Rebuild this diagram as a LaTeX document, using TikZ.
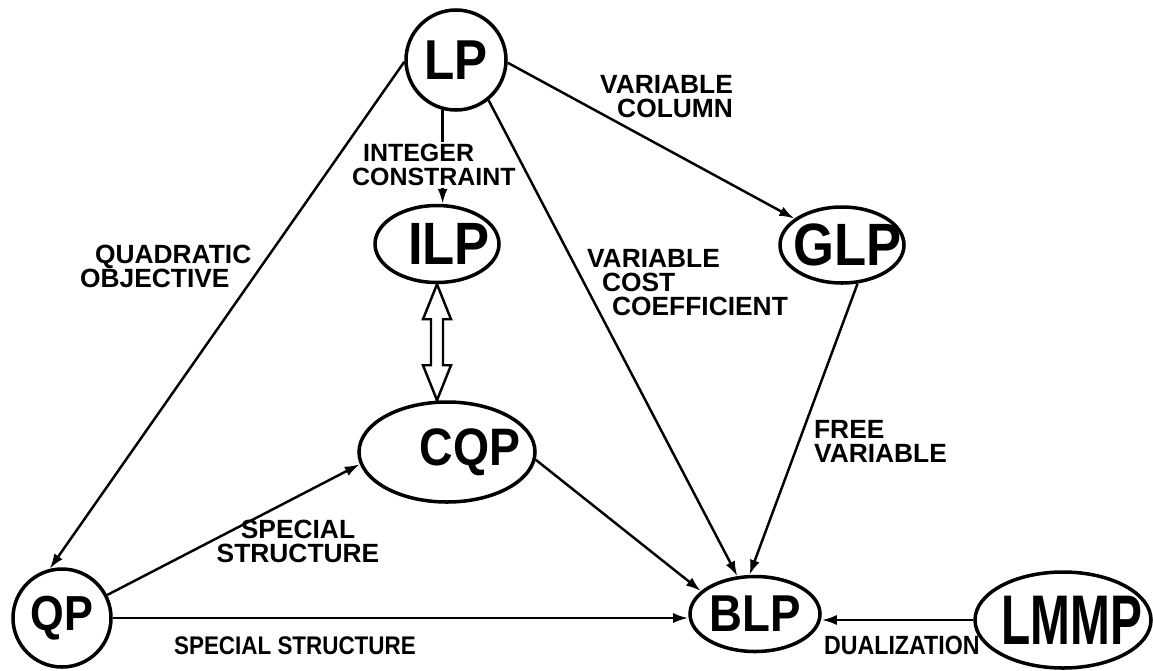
\documentclass[tikz,border=0pt]{standalone}
\usepackage{fontspec}
\setmainfont{Liberation Sans}
\newfontfamily\nodefont[FakeStretch=0.88]{Liberation Sans}
\newfontfamily\slimfont[FakeStretch=0.68]{Liberation Sans}
\usetikzlibrary{shapes.geometric,arrows.meta,calc}
\tikzset{
	circ/.style={circle,draw,line width=2pt,inner sep=0pt,minimum size=#1},
	ell/.style args={#1/#2}{ellipse,draw,line width=2pt,inner sep=0pt,minimum width=#1,minimum height=#2},
	bigtxt/.style={font=\nodefont\bfseries\fontsize{#1}{#1}\selectfont,inner sep=0pt},
	edge/.style={line width=1.4pt,-{Latex[length=3mm,width=2mm]}},
	lbl/.style={font=\bfseries\fontsize{15}{13.7}\selectfont,inner sep=1pt}
}
\begin{document}
\begin{tikzpicture}[x=0.2mm,y=-0.2mm]
	\useasboundingbox (0,0) rectangle (1153,670);
	% problems
	\node[circ=20mm,bigtxt=32] (lp) at (456,60) {LP};
	\node[circ=19.6mm,bigtxt=28] (qp) at (62,618) {QP};
	\node[ell=24.8mm/15.4mm,label={[bigtxt=34,xshift=2.4mm]center:ILP}] (ilp) at (437,244) {};
	\node[ell=24.8mm/15.2mm,label={[bigtxt=34,xshift=1.2mm]center:GLP}] (glp) at (842,245) {};
	\node[ell=35.2mm/20mm,label={[bigtxt=30,xshift=4.6mm]center:CQP}] (cqp) at (447,452) {};
	\node[ell=26mm/15mm,label={[bigtxt=29.5]center:BLP}] (blp) at (755,614) {};
	\node[ell=35.2mm/19.2mm,label={[font=\slimfont\bfseries\fontsize{40}{40}\selectfont,inner sep=0pt,xshift=1.8mm]center:LMMP}] (lmmp) at (1063,620) {};
	% labels
	\node[lbl,font=\bfseries\fontsize{14.2}{13.7}\selectfont,align=left,anchor=west] (intlbl) at (350,165) {\hspace*{2.2mm}INTEGER\\CONSTRAINT};
	\node[lbl,align=left,anchor=west] (quadlbl) at (78,266) {\hspace*{3mm}QUADRATIC\\OBJECTIVE};
	\node[lbl,align=right,anchor=east] (collbl) at (735,97) {VARIABLE\\COLUMN};
	\node[lbl,align=left,anchor=north west] (costlbl) at (585,247) {VARIABLE\\\hspace*{3mm}COST\\\hspace*{5mm}COEFFICIENT};
	\node[lbl,align=left,anchor=north west] (freelbl) at (812,418) {FREE\\VARIABLE};
	\node[lbl,align=center] (cqplbl) at (298,541) {SPECIAL\\STRUCTURE};
	\node[lbl,font=\nodefont\bfseries\fontsize{14.5}{14.5}\selectfont,anchor=west] (blplbl) at (172,646) {SPECIAL STRUCTURE};
	\node[lbl,font=\nodefont\bfseries\fontsize{15}{15}\selectfont,anchor=west] (duallbl) at (822,645) {DUALIZATION};
	% connectors
	\draw[edge] (lp.182) -- (qp.104);
	\draw[line width=1.4pt] (lp.255) -- (lp.255 |- intlbl.north);
	\draw[edge] (lp.255 |- intlbl.south) -- (lp.255 |- ilp.north);
	\draw[edge] (lp.357) -- (glp.151);
	\draw[edge] (lp.309) -- (blp.115);
	\draw[edge] (glp.292) -- (blp.98);
	\draw[edge] (cqp.355) -- (blp.157);
	\draw[edge] (qp.27) -- (cqp.188);
	\draw[edge] (qp.east) -- (qp.east -| blp.west);
	\draw[edge] (lmmp.west) -- (lmmp.west -| blp.east);
	% hollow double arrow ILP - CQP
	\coordinate (dtop) at (ilp.south);
	\coordinate (dbot) at (ilp.south |- cqp.north);
	\draw[line width=1.4pt] (dtop) -- ++(14,35) -- ++(-8,0) -- ($(dbot)+(6,-35)$) -- ++(8,0) -- (dbot) -- ++(-14,-35) -- ++(8,0) -- ($(dtop)+(-6,35)$) -- ++(-8,0) -- cycle;
\end{tikzpicture}
\end{document}
